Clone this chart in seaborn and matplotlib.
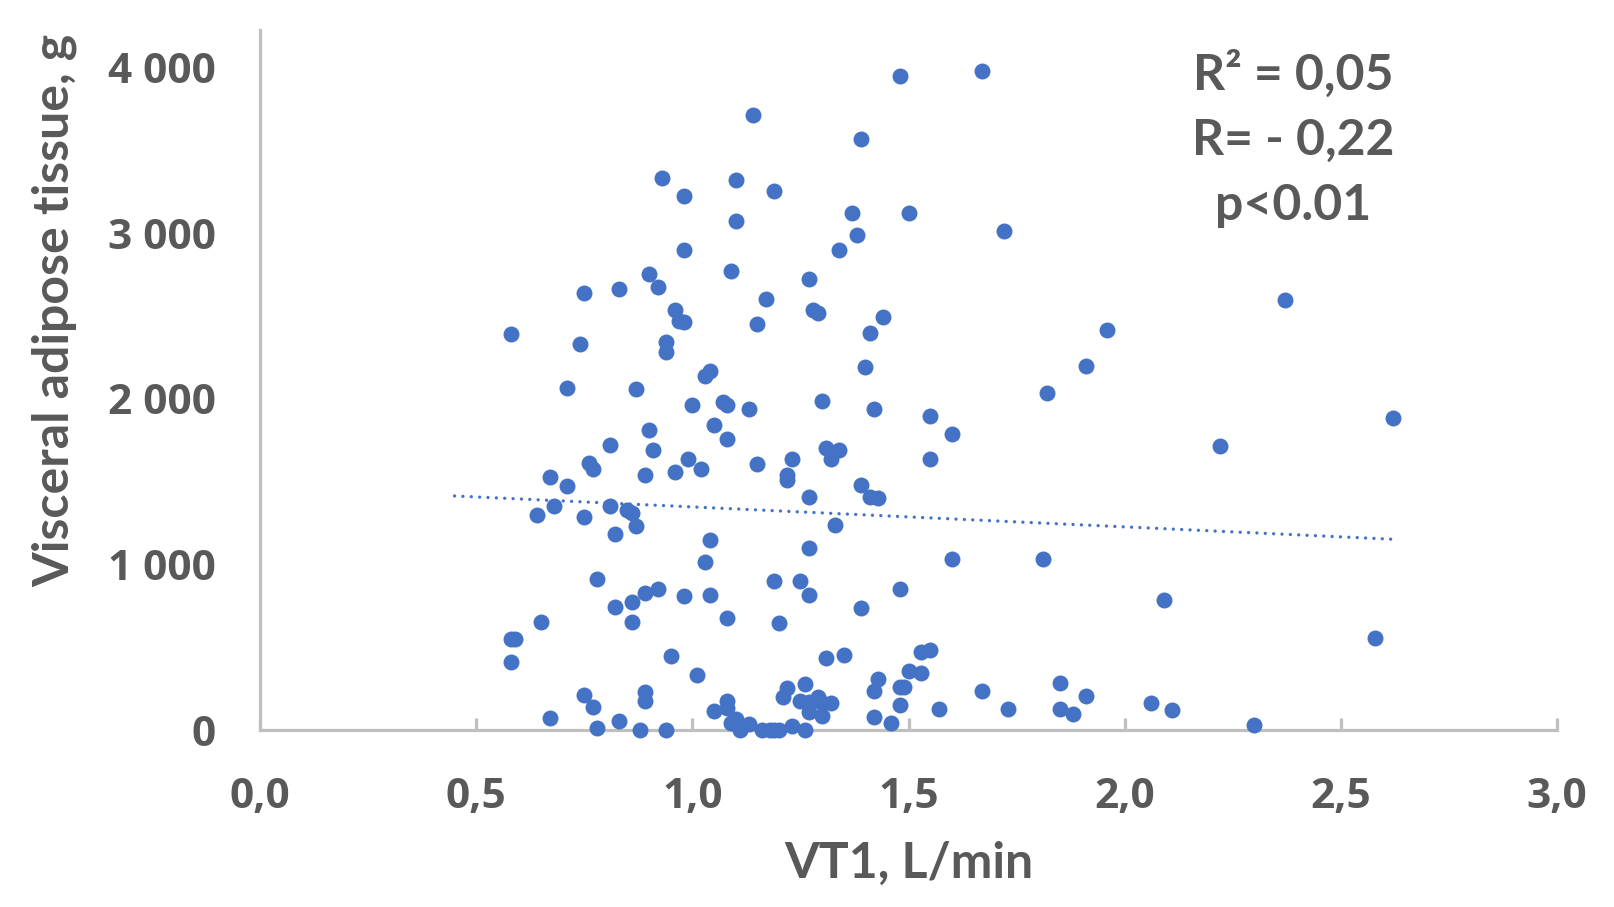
import numpy as np
import pandas as pd
import seaborn as sns
import matplotlib
matplotlib.use("Agg")
import matplotlib.pyplot as plt
from matplotlib.ticker import FuncFormatter, MultipleLocator

# VT1 (L/min) and visceral adipose tissue (g)
vt1 = [
    1.48, 1.67, 1.14, 1.39, 0.93, 1.10, 0.98, 1.19, 1.37, 1.50,
    1.10, 1.72, 1.38, 0.98, 1.34, 1.09, 0.90, 1.27, 0.92, 0.83,
    0.75, 2.37, 1.17, 0.96, 1.28, 1.29, 0.97, 0.98, 1.44, 1.15,
    0.58, 1.41, 1.96, 0.94, 0.74, 0.94, 1.04, 1.03, 1.91, 1.40,
    0.71, 0.87, 1.82, 1.07, 1.08, 1.00, 1.30, 1.13, 1.42, 1.55,
    1.05, 0.90, 1.60, 0.81, 1.08, 2.22, 2.62, 0.91, 1.31, 1.34,
    1.32, 1.23, 1.55, 0.99, 0.76, 0.77, 1.02, 0.96, 0.89, 1.15,
    1.22, 1.22, 0.67, 0.71, 1.39, 1.27, 1.41, 1.43, 0.68, 0.81,
    0.64, 0.85, 0.86, 0.75, 0.87, 1.33, 0.82, 1.04, 1.27, 1.03,
    1.60, 1.81, 0.78, 1.19, 1.25, 1.48, 0.92, 0.89, 0.98, 1.04,
    1.27, 0.86, 0.82, 2.09, 1.39, 0.86, 0.65, 1.08, 1.20, 0.58,
    0.59, 2.58, 0.58, 0.95, 1.31, 1.35, 1.53, 1.55, 1.53, 1.50,
    1.43, 1.01, 1.67, 1.85, 1.49, 1.48, 1.42, 0.75, 0.89, 0.89,
    1.22, 1.26, 1.21, 1.29, 1.25, 1.27, 1.30, 1.32, 1.91, 2.06,
    2.11, 1.73, 1.57, 1.85, 1.88, 1.48, 1.08, 1.08, 0.77, 1.05,
    1.30, 1.27, 1.42, 0.67, 1.46, 0.83, 1.09, 1.10, 1.11, 1.13,
    1.16, 1.18, 1.19, 1.20, 1.11, 0.78, 0.88, 0.94, 1.23, 1.26,
    2.30,
]
vat = [
    3950, 3980, 3710, 3570, 3330, 3320, 3225, 3255, 3120, 3120,
    3070, 3015, 2990, 2895, 2895, 2770, 2750, 2720, 2675, 2660,
    2640, 2595, 2600, 2535, 2535, 2520, 2470, 2465, 2495, 2450,
    2390, 2395, 2415, 2345, 2330, 2280, 2165, 2135, 2195, 2190,
    2065, 2060, 2035, 1980, 1960, 1960, 1985, 1935, 1940, 1895,
    1840, 1810, 1790, 1720, 1755, 1715, 1885, 1690, 1700, 1690,
    1635, 1635, 1635, 1635, 1610, 1575, 1575, 1560, 1540, 1605,
    1540, 1510, 1525, 1475, 1480, 1405, 1405, 1400, 1350, 1355,
    1300, 1330, 1310, 1285, 1230, 1235, 1185, 1150, 1100, 1015,
    1030, 1035, 910, 900, 900, 850, 850, 830, 810, 815,
    815, 775, 745, 785, 735, 655, 655, 675, 645, 550,
    550, 555, 410, 445, 435, 455, 470, 480, 345, 355,
    310, 330, 235, 285, 260, 262, 237, 212, 230, 175,
    255, 280, 200, 200, 175, 168, 160, 160, 205, 160,
    120, 125, 125, 125, 95, 150, 175, 130, 137, 112,
    87, 106, 80, 75, 45, 56, 44, 69, 25, 37,
    0, 0, 0, 0, 0, 12, 0, 0, 25, 0,
    30,
]

# linear trend line end points as drawn
trend_x = [0.45, 2.625]
trend_y = [1413, 1151]

stats_lines = ["R\u00b2 = 0,05", "R= - 0,22", "p<0.01"]

df = pd.DataFrame({"VT1": vt1, "VAT": vat})

blue = "#4472C4"
grey_text = "#595959"
axis_grey = "#BFBFBF"

sns.set_style("white")
plt.rcParams["font.family"] = ["Open Sans", "DejaVu Sans"]

W, H = 1614, 907
fig = plt.figure(figsize=(W / 100, H / 100), dpi=100)
ax = fig.add_axes([260 / W, (H - 730) / H, 1297 / W, 700 / H])

sns.scatterplot(
    data=df, x="VT1", y="VAT", ax=ax, color=blue, s=132,
    linewidth=0, clip_on=False, zorder=5,
)
ax.plot(trend_x, trend_y, color=blue, lw=2.4, linestyle=(0, (0.01, 2.5)),
        dash_capstyle="round", zorder=4)

ax.set_xlim(0, 3.0)
ax.set_ylim(0, 4226)
ax.xaxis.set_major_locator(MultipleLocator(0.5))
ax.yaxis.set_major_locator(MultipleLocator(1000))
ax.xaxis.set_major_formatter(FuncFormatter(lambda v, p: f"{v:.1f}".replace(".", ",")))
ax.yaxis.set_major_formatter(FuncFormatter(lambda v, p: f"{v:,.0f}".replace(",", " ")))

for side in ["top", "right"]:
    ax.spines[side].set_visible(False)
for side in ["left", "bottom"]:
    ax.spines[side].set_color(axis_grey)
    ax.spines[side].set_linewidth(2.3)

ax.tick_params(axis="x", bottom=True, direction="in", length=9, width=2.3,
               color=axis_grey, pad=34, labelsize=30.5, labelcolor=grey_text)
ax.tick_params(axis="y", length=0, pad=32, labelsize=30.5, labelcolor=grey_text)
for lab in ax.get_xticklabels() + ax.get_yticklabels():
    lab.set_fontweight("bold")

ax.set_xlabel("")
ax.set_ylabel("")

title_font = dict(family=["Lato", "DejaVu Sans"], fontweight="bold",
                  fontsize=36, color=grey_text)
fig.text(909 / W, 1 - 878 / H, "VT1, L/min", ha="center", va="baseline", **title_font)
fig.text(55 / W, 1 - 310 / H, "Visceral adipose tissue, g", ha="center", va="center",
         rotation=90, **title_font)

for line, base in zip(stats_lines, [90, 155, 220]):
    fig.text(1293 / W, 1 - base / H, line, ha="center", va="baseline", **title_font)

fig.savefig("out.png", dpi=100)
